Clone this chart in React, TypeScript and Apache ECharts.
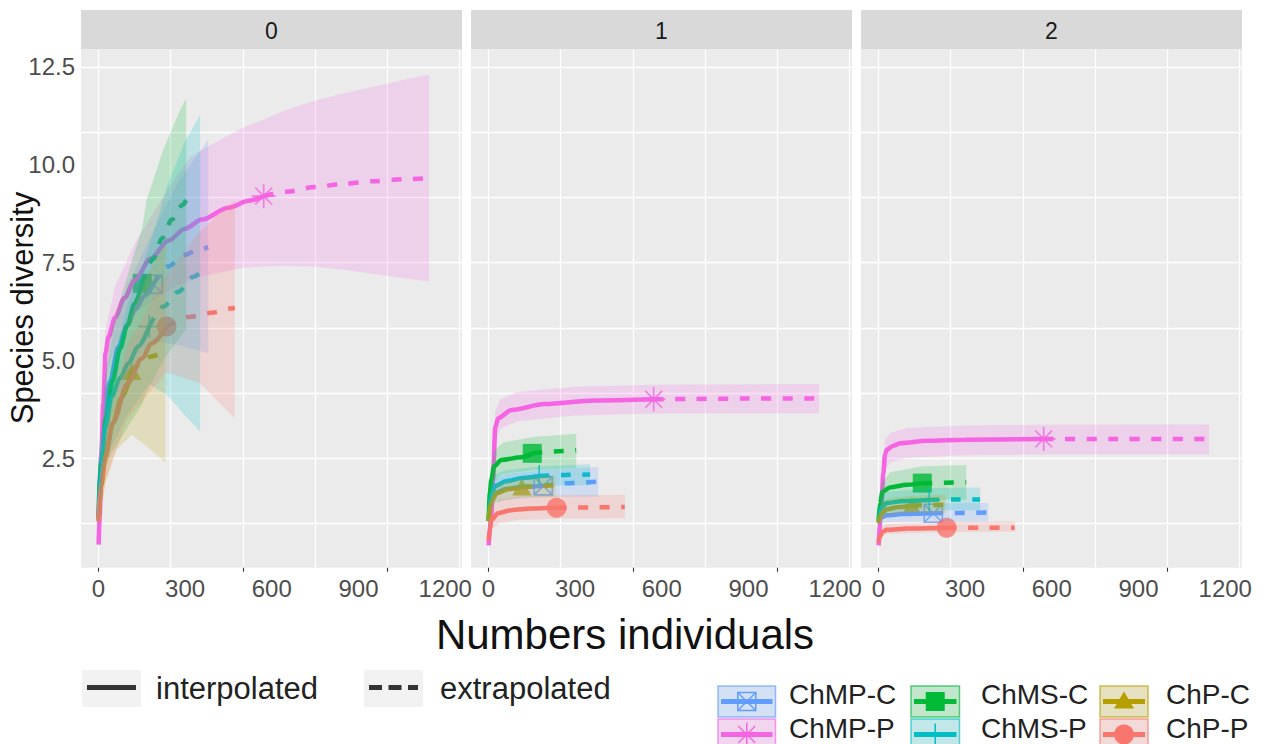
import React, { useEffect, useRef } from "react";
import * as echarts from "echarts";

const FONT = '"Liberation Sans", Arial, Helvetica, sans-serif';

// ---------- categories / scales ----------
const assemblages = ["ChMP-C", "ChMP-P", "ChMS-C", "ChMS-P", "ChP-C", "ChP-P"];
const palette = ["#619CFF", "#F564E3", "#00BA38", "#00BFC4", "#B79F00", "#F8766D"];
const referenceSize = [190, 572, 152, 176, 116, 236];
const orderLabels = ["0", "1", "2"];
const xTickLabels = [0, 300, 600, 900, 1200];
const xGridValues = [0, 250, 500, 750, 1000, 1250];
const xTickMarks = [0, 500, 1000];
const yTickLabels = [2.5, 5, 7.5, 10, 12.5];
const yGridValues = [0.833, 2.5, 4.167, 5.833, 7.5, 9.167, 10.833, 12.5];
const linetypeLabels = ["interpolated", "extrapolated"];

// ---------- order q = 0 : [size, diversity] ----------
const q0_ChMPC = [[1, 1.0], [5, 2.0], [10, 2.6], [20, 3.5], [40, 4.45], [69, 5.35], [100, 5.9], [127, 6.3], [160, 6.65], [190, 6.95], [240, 7.4], [300, 7.7], [340, 7.82], [380, 7.9]];
const q0_ChMPP = [[1, 0.3], [5, 1.05], [9, 2.2], [17, 3.9], [25, 5.2], [35, 5.6], [58, 6.1], [90, 6.6], [127, 7.06], [180, 7.6], [242, 8.06], [300, 8.37], [358, 8.6], [450, 8.9], [520, 9.08], [572, 9.2], [650, 9.31], [750, 9.43], [850, 9.52], [950, 9.58], [1050, 9.63], [1144, 9.66]];
const q0_ChMSC = [[1, 0.95], [5, 1.9], [10, 2.4], [25, 3.5], [50, 4.5], [75, 5.3], [100, 5.9], [125, 6.45], [152, 6.97], [190, 7.6], [220, 8.12], [254, 8.6], [292, 8.98], [304, 9.1]];
const q0_ChMSP = [[1, 0.9], [10, 2.3], [25, 3.3], [46, 4.08], [75, 4.55], [104, 4.93], [138, 5.36], [176, 5.87], [225, 6.38], [277, 6.76], [329, 7.14], [352, 7.25]];
const q0_ChPC = [[1, 0.9], [10, 1.8], [25, 2.6], [50, 3.4], [80, 4.05], [116, 4.72], [150, 4.95], [180, 5.1], [232, 5.25]];
const q0_ChPP = [[1, 0.9], [10, 1.9], [23, 2.5], [50, 3.4], [100, 4.4], [150, 5.05], [185, 5.44], [236, 5.87], [317, 6.12], [390, 6.22], [456, 6.33], [472, 6.35]];
// bands: [size, lower, upper]
const q0_ChMPC_band = [[1, 0.9, 1.1], [10, 2.0, 3.0], [25, 3.0, 4.6], [60, 3.9, 6.0], [100, 4.6, 6.9], [150, 5.2, 7.7], [190, 5.5, 8.3], [280, 5.4, 9.6], [380, 5.19, 10.64]];
const q0_ChMPP_band = [[1, 0.25, 0.38], [9, 1.9, 2.6], [17, 3.4, 4.5], [25, 4.6, 5.8], [58, 5.4, 6.9], [127, 6.2, 8.0], [242, 6.8, 9.4], [318, 7.05, 10.2], [387, 7.2, 10.5], [502, 7.37, 10.95], [572, 7.4, 11.15], [650, 7.42, 11.4], [744, 7.4, 11.62], [850, 7.32, 11.83], [975, 7.19, 12.03], [1060, 7.1, 12.17], [1144, 7.02, 12.3]];
const q0_ChMSC_band = [[1, 0.85, 1.05], [20, 2.2, 4.3], [46, 2.63, 5.8], [110, 3.4, 7.4], [152, 3.9, 8.4], [167, 4.2, 9.1], [225, 5.0, 10.4], [283, 5.6, 11.4], [304, 5.8, 11.7]];
const q0_ChMSP_band = [[1, 0.85, 1.0], [25, 2.5, 4.2], [100, 3.6, 6.4], [176, 4.4, 7.9], [240, 4.1, 9.5], [300, 3.6, 10.6], [352, 3.18, 11.27]];
const q0_ChPC_band = [[1, 0.8, 1.0], [25, 1.9, 3.3], [60, 2.7, 4.6], [116, 3.1, 6.2], [170, 2.8, 7.2], [232, 2.4, 8.0]];
const q0_ChPP_band = [[1, 0.8, 1.0], [25, 1.9, 3.1], [100, 3.5, 5.4], [236, 4.7, 7.2], [352, 4.42, 8.3], [472, 3.53, 9.1]];

// ---------- order q = 1 ----------
const q1_ChMPC = [[1, 0.9], [10, 1.45], [25, 1.62], [60, 1.72], [120, 1.77], [190, 1.8], [280, 1.87], [380, 1.91]];
const q1_ChMPP = [[1, 0.28], [10, 1.0], [16, 1.95], [24, 3.3], [34, 3.53], [80, 3.74], [195, 3.89], [368, 3.98], [572, 4.01], [700, 4.02], [900, 4.03], [1144, 4.03]];
const q1_ChMSC = [[1, 0.9], [5, 1.6], [10, 1.95], [20, 2.3], [45, 2.46], [114, 2.53], [152, 2.63], [230, 2.68], [304, 2.71]];
const q1_ChMSP = [[1, 0.9], [10, 1.6], [25, 1.8], [60, 1.92], [120, 2.0], [176, 2.05], [260, 2.08], [352, 2.09]];
const q1_ChPC = [[1, 0.9], [10, 1.4], [30, 1.62], [70, 1.72], [116, 1.77], [174, 1.8], [232, 1.82]];
const q1_ChPP = [[1, 0.4], [5, 0.7], [10, 0.93], [34, 1.1], [80, 1.18], [150, 1.22], [236, 1.24], [350, 1.25], [472, 1.26]];
const q1_ChMPC_band = [[1, 0.8, 1.0], [10, 1.2, 1.75], [25, 1.35, 1.95], [60, 1.45, 2.1], [190, 1.52, 2.2], [380, 1.52, 2.28]];
const q1_ChMPP_band = [[1, 0.22, 0.35], [10, 0.8, 1.3], [24, 2.8, 3.7], [40, 3.25, 4.0], [100, 3.45, 4.2], [300, 3.6, 4.33], [572, 3.65, 4.38], [1144, 3.65, 4.4]];
const q1_ChMSC_band = [[1, 0.8, 1.0], [10, 1.6, 2.3], [20, 1.9, 2.7], [50, 2.1, 2.9], [152, 2.2, 3.05], [304, 2.25, 3.13]];
const q1_ChMSP_band = [[1, 0.8, 1.0], [10, 1.3, 1.9], [25, 1.55, 2.1], [60, 1.7, 2.2], [176, 1.8, 2.3], [352, 1.82, 2.35]];
const q1_ChPC_band = [[1, 0.8, 1.0], [10, 1.2, 1.65], [30, 1.4, 1.85], [116, 1.5, 2.0], [232, 1.5, 2.08]];
const q1_ChPP_band = [[1, 0.3, 0.5], [10, 0.7, 1.2], [40, 0.85, 1.45], [100, 0.93, 1.52], [236, 0.96, 1.56], [472, 0.97, 1.57]];

// ---------- order q = 2 ----------
const q2_ChMPC = [[1, 0.85], [10, 1.0], [30, 1.05], [80, 1.08], [190, 1.1], [285, 1.11], [380, 1.12]];
const q2_ChMPP = [[1, 0.28], [10, 1.2], [17, 2.1], [23, 2.6], [29, 2.72], [50, 2.82], [76, 2.89], [167, 2.95], [300, 2.98], [572, 3.0], [800, 3.0], [1144, 3.0]];
const q2_ChMSC = [[1, 0.9], [5, 1.35], [15, 1.65], [40, 1.76], [100, 1.83], [152, 1.87], [228, 1.88], [304, 1.89]];
const q2_ChMSP = [[1, 0.9], [10, 1.25], [30, 1.36], [80, 1.41], [176, 1.44], [264, 1.45], [352, 1.45]];
const q2_ChPC = [[1, 0.85], [10, 1.1], [30, 1.2], [70, 1.26], [116, 1.3], [174, 1.31], [232, 1.32]];
const q2_ChPP = [[1, 0.35], [5, 0.5], [15, 0.63], [30, 0.68], [100, 0.71], [236, 0.73], [354, 0.73], [472, 0.73]];
const q2_ChMPC_band = [[1, 0.75, 0.95], [10, 0.85, 1.2], [30, 0.88, 1.3], [190, 0.89, 1.35], [380, 0.89, 1.36]];
const q2_ChMPP_band = [[1, 0.22, 0.35], [10, 0.9, 1.5], [23, 2.2, 2.95], [40, 2.4, 3.15], [100, 2.52, 3.28], [300, 2.58, 3.34], [572, 2.6, 3.36], [1144, 2.6, 3.37]];
const q2_ChMSC_band = [[1, 0.8, 1.0], [10, 1.2, 1.85], [40, 1.38, 2.15], [152, 1.44, 2.3], [304, 1.45, 2.33]];
const q2_ChMSP_band = [[1, 0.8, 1.0], [10, 1.0, 1.5], [30, 1.12, 1.65], [176, 1.18, 1.74], [352, 1.18, 1.76]];
const q2_ChPC_band = [[1, 0.8, 0.95], [10, 0.95, 1.35], [30, 1.05, 1.48], [116, 1.1, 1.55], [232, 1.1, 1.57]];
const q2_ChPP_band = [[1, 0.3, 0.45], [10, 0.5, 0.75], [30, 0.58, 0.83], [236, 0.62, 0.88], [472, 0.63, 0.89]];

const curves = [
  [q0_ChMPC, q0_ChMPP, q0_ChMSC, q0_ChMSP, q0_ChPC, q0_ChPP],
  [q1_ChMPC, q1_ChMPP, q1_ChMSC, q1_ChMSP, q1_ChPC, q1_ChPP],
  [q2_ChMPC, q2_ChMPP, q2_ChMSC, q2_ChMSP, q2_ChPC, q2_ChPP],
];
const bands = [
  [q0_ChMPC_band, q0_ChMPP_band, q0_ChMSC_band, q0_ChMSP_band, q0_ChPC_band, q0_ChPP_band],
  [q1_ChMPC_band, q1_ChMPP_band, q1_ChMSC_band, q1_ChMSP_band, q1_ChPC_band, q1_ChPP_band],
  [q2_ChMPC_band, q2_ChMPP_band, q2_ChMSC_band, q2_ChMSP_band, q2_ChPC_band, q2_ChPP_band],
];

// ---------- layout / style ----------
const GRID_LEFT = [81, 471, 861];
const GRID_W = 381;
const GRID_TOP = 49.3;
const GRID_H = 518.4;
const X_MIN = -60, X_MAX = 1258;
const Y_MIN = -0.29, Y_MAX = 12.95;

const SYMBOLS: any[] = [
  { symbol: "path://M0 0L100 0L100 100L0 100ZM0 0L100 100M100 0L0 100", size: 18, hollow: true, kind: "sqx" },
  { symbol: "path://M50 0L50 100M0 50L100 50M15 15L85 85M15 85L85 15", size: 24, hollow: true, kind: "ast" },
  { symbol: "rect", size: 19, hollow: false, kind: "sq" },
  { symbol: "path://M50 0L50 100M0 50L100 50", size: 22, hollow: true, kind: "plus" },
  { symbol: "triangle", size: [19, 17], hollow: false, kind: "tri" },
  { symbol: "circle", size: 20, hollow: false, kind: "circ" },
];

function rgba(hex: string, a: number) {
  const n = parseInt(hex.slice(1), 16);
  return `rgba(${(n >> 16) & 255},${(n >> 8) & 255},${n & 255},${a})`;
}

function legendMarker(kind: string, cx: number, cy: number, col: string): any[] {
  const ln = (x1: number, y1: number, x2: number, y2: number) => ({
    type: "line", silent: true, z: 12,
    shape: { x1, y1, x2, y2 }, style: { stroke: col, lineWidth: 1.5 },
  });
  if (kind === "sqx") {
    return [
      { type: "rect", silent: true, z: 12, shape: { x: cx - 9, y: cy - 9, width: 18, height: 18 }, style: { fill: "none", stroke: col, lineWidth: 1.5 } },
      ln(cx - 9, cy - 9, cx + 9, cy + 9), ln(cx + 9, cy - 9, cx - 9, cy + 9),
    ];
  }
  if (kind === "ast") {
    return [ln(cx, cy - 12, cx, cy + 12), ln(cx - 12, cy, cx + 12, cy), ln(cx - 8.5, cy - 8.5, cx + 8.5, cy + 8.5), ln(cx - 8.5, cy + 8.5, cx + 8.5, cy - 8.5)];
  }
  if (kind === "plus") {
    return [ln(cx, cy - 11, cx, cy + 11), ln(cx - 11, cy, cx + 11, cy)];
  }
  if (kind === "sq") {
    return [{ type: "rect", silent: true, z: 12, shape: { x: cx - 9.5, y: cy - 9.5, width: 19, height: 19 }, style: { fill: col } }];
  }
  if (kind === "tri") {
    return [{ type: "polygon", silent: true, z: 12, shape: { points: [[cx, cy - 10], [cx + 10, cy + 7], [cx - 10, cy + 7]] }, style: { fill: col } }];
  }
  return [{ type: "circle", silent: true, z: 12, shape: { cx, cy, r: 10 }, style: { fill: col } }];
}

function buildOption() {
  const grids: any[] = [];
  const xAxes: any[] = [];
  const yAxes: any[] = [];
  const series: any[] = [];
  const graphics: any[] = [];

  for (let p = 0; p < 3; p++) {
    grids.push({
      left: GRID_LEFT[p], top: GRID_TOP, width: GRID_W, height: GRID_H,
      show: true, backgroundColor: "#EBEBEB", borderWidth: 0,
      containLabel: false, outerBoundsMode: "none",
    });
    xAxes.push({
      type: "value", gridIndex: p, min: X_MIN, max: X_MAX, position: "bottom",
      axisLine: { show: false, onZero: false },
      axisTick: { show: false, customValues: xGridValues },
      axisLabel: { show: false },
      splitLine: { show: true, lineStyle: { color: "#FFFFFF", width: 1.3 } },
    });
    xAxes.push({
      type: "value", gridIndex: p, min: X_MIN, max: X_MAX, position: "bottom",
      axisLine: { show: false, onZero: false },
      axisTick: { show: true, customValues: xTickMarks, length: 4, lineStyle: { color: "#333333", width: 1.1 } },
      axisLabel: {
        show: true, customValues: xTickLabels, fontSize: 24, color: "#4D4D4D", fontFamily: FONT, margin: 9,
        formatter: (v: number) => String(Math.round(v)),
      },
      splitLine: { show: false },
    });
    yAxes.push({
      type: "value", gridIndex: p, min: Y_MIN, max: Y_MAX, position: "left",
      axisLine: { show: false, onZero: false },
      axisTick: { show: false, customValues: yGridValues },
      axisLabel: { show: false },
      splitLine: { show: true, lineStyle: { color: "#FFFFFF", width: 1.3 } },
    });
    yAxes.push({
      type: "value", gridIndex: p, min: Y_MIN, max: Y_MAX, position: "left",
      show: p === 0,
      axisLine: { show: false, onZero: false },
      axisTick: { show: false, customValues: yTickLabels },
      axisLabel: {
        show: p === 0, customValues: yTickLabels, fontSize: 24, color: "#4D4D4D",
        fontFamily: FONT, margin: 6, formatter: (v: number) => v.toFixed(1),
      },
      splitLine: { show: false },
    });

    // strip
    graphics.push({
      type: "rect", silent: true, z: 10,
      shape: { x: GRID_LEFT[p], y: 10, width: GRID_W, height: GRID_TOP - 10 },
      style: { fill: "#D9D9D9" },
    });
    graphics.push({
      type: "text", silent: true, z: 11, x: GRID_LEFT[p] + GRID_W / 2, y: 31,
      style: {
        text: orderLabels[p], fill: "#1A1A1A", fontSize: 23, fontFamily: FONT,
        textAlign: "center", textVerticalAlign: "middle", verticalAlign: "middle",
      },
    });

    for (let a = 0; a < assemblages.length; a++) {
      const col = palette[a];
      const n = referenceSize[a];
      const curve = curves[p][a];
      const band = bands[p][a];
      const obs = curve.filter((d) => d[0] <= n);
      const ext = curve.filter((d) => d[0] >= n);
      const ref = curve.find((d) => d[0] === n) as number[];
      const sym = SYMBOLS[a];

      series.push({
        type: "scatter", name: assemblages[a], xAxisIndex: 2 * p, yAxisIndex: 2 * p, z: 2,
        silent: true, data: [ref], symbol: sym.symbol, symbolSize: sym.size,
        itemStyle: sym.hollow
          ? { color: "rgba(0,0,0,0)", borderColor: col, borderWidth: 1.6 }
          : { color: col, borderWidth: 0 },
      });
      series.push({
        type: "line", name: assemblages[a], xAxisIndex: 2 * p, yAxisIndex: 2 * p, z: 3,
        silent: true, data: obs, showSymbol: false, symbol: "none",
        smooth: 0.3, smoothMonotone: "x",
        lineStyle: { color: col, width: 4.5 },
      });
      series.push({
        type: "line", name: assemblages[a], xAxisIndex: 2 * p, yAxisIndex: 2 * p, z: 3,
        silent: true, data: ext, showSymbol: false, symbol: "none",
        smooth: 0.3, smoothMonotone: "x",
        lineStyle: { color: col, width: 4.5, type: [10, 11.5], cap: "butt" },
      });
      series.push({
        type: "custom", name: assemblages[a], xAxisIndex: 2 * p, yAxisIndex: 2 * p, z: 4,
        silent: true, coordinateSystem: "cartesian2d", data: [[0, 0]],
        encode: { x: 0, y: 1 },
        renderItem: (_params: any, api: any) => {
          const up = band.map((b) => api.coord([b[0], b[2]]));
          const lo = band.slice().reverse().map((b) => api.coord([b[0], b[1]]));
          return {
            type: "polygon", silent: true,
            shape: { points: up.concat(lo) },
            style: { fill: rgba(col, 0.2), stroke: "none" },
          };
        },
      });
    }
  }

  // axis titles
  graphics.push({
    type: "text", silent: true, z: 11, x: 22, y: 308, rotation: Math.PI / 2,
    style: {
      text: "Species diversity", fill: "#111111", fontSize: 31, fontFamily: FONT,
      textAlign: "center", textVerticalAlign: "middle", verticalAlign: "middle",
    },
  });
  graphics.push({
    type: "text", silent: true, z: 11, x: 625, y: 634,
    style: {
      text: "Numbers individuals", fill: "#111111", fontSize: 42, fontFamily: FONT,
      textAlign: "center", textVerticalAlign: "middle", verticalAlign: "middle",
    },
  });

  // linetype legend
  const ltBoxX = [82, 364];
  const ltTextX = [156, 440];
  for (let i = 0; i < 2; i++) {
    graphics.push({
      type: "rect", silent: true, z: 10,
      shape: { x: ltBoxX[i], y: 670, width: 59, height: 37 },
      style: { fill: "#F2F2F2" },
    });
    graphics.push({
      type: "line", silent: true, z: 11,
      shape: { x1: ltBoxX[i] + 5, y1: 687.5, x2: ltBoxX[i] + 54, y2: 687.5 },
      style: { stroke: "#333333", lineWidth: 5, lineDash: i === 1 ? [13, 6.5] : null },
    });
    graphics.push({
      type: "text", silent: true, z: 11, x: ltTextX[i], y: 688,
      style: {
        text: linetypeLabels[i], fill: "#222222", fontSize: 31, fontFamily: FONT,
        textAlign: "left", textVerticalAlign: "middle", verticalAlign: "middle",
      },
    });
  }

  // colour / shape legend
  const lgBoxX = [718, 911, 1100];
  const lgBoxW = [57.5, 48.5, 48];
  const lgTextX = [789, 981, 1166];
  const lgBoxY = [686, 719];
  const lgTextY = [694, 728];
  for (let a = 0; a < assemblages.length; a++) {
    const c = Math.floor(a / 2);
    const r = a % 2;
    const col = palette[a];
    const bx = lgBoxX[c], by = lgBoxY[r], bw = lgBoxW[c], bh = 31;
    const cx = bx + bw / 2, cy = by + bh / 2;
    graphics.push({
      type: "rect", silent: true, z: 10,
      shape: { x: bx, y: by, width: bw, height: bh },
      style: { fill: "#F2F2F2" },
    });
    graphics.push({
      type: "rect", silent: true, z: 11,
      shape: { x: bx, y: by, width: bw, height: bh },
      style: { fill: rgba(col, 0.2), stroke: rgba(col, 0.65), lineWidth: 1.5 },
    });
    graphics.push({
      type: "line", silent: true, z: 12,
      shape: { x1: bx + 3, y1: cy, x2: bx + bw - 3, y2: cy },
      style: { stroke: col, lineWidth: 5 },
    });
    legendMarker(SYMBOLS[a].kind, cx, cy, col).forEach((g) => graphics.push(g));
    graphics.push({
      type: "text", silent: true, z: 11, x: lgTextX[c], y: lgTextY[r],
      style: {
        text: assemblages[a], fill: "#222222", fontSize: 28, fontFamily: FONT,
        textAlign: "left", textVerticalAlign: "middle", verticalAlign: "middle",
      },
    });
  }

  return {
    animation: false,
    backgroundColor: "#FFFFFF",
    textStyle: { fontFamily: FONT },
    grid: grids,
    xAxis: xAxes,
    yAxis: yAxes,
    series,
    graphic: { elements: graphics },
  };
}

export default function App() {
  const ref = useRef<HTMLDivElement | null>(null);
  useEffect(() => {
    if (!ref.current) return;
    const chart = echarts.init(ref.current, null, { renderer: "svg" });
    chart.setOption(buildOption() as any);
    return () => chart.dispose();
  }, []);
  return (
    <div
      ref={ref}
      style={{ position: "fixed", left: 0, top: 0, width: 1269, height: 744, background: "#fff" }}
    />
  );
}
